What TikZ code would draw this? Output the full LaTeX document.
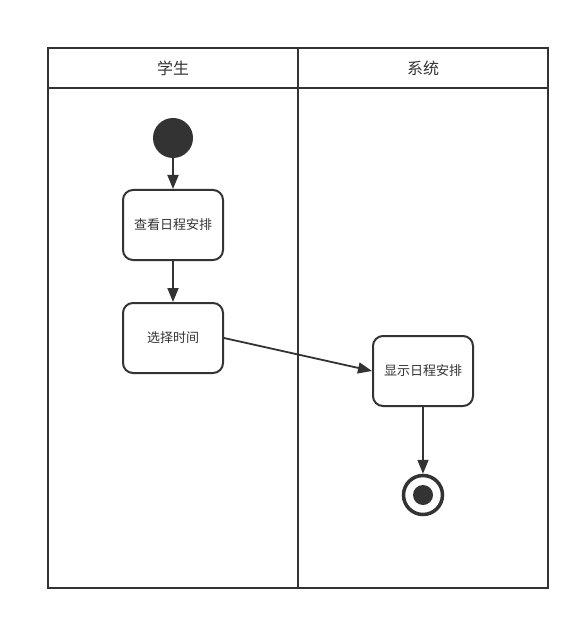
\documentclass[tikz,border=0pt]{standalone}
\usepackage{fontspec}
\newfontfamily\cjk{Noto Sans CJK SC}
\usetikzlibrary{arrows.meta}
\definecolor{ink}{HTML}{333333}
\tikzset{
  lane/.style={draw=ink, line width=2pt},
  act/.style={draw=ink, line width=2pt, rounded corners=10pt, minimum width=100pt, minimum height=70pt, font=\cjk\fontsize{13}{15}\selectfont, text=ink, inner sep=0pt},
  flow/.style={draw=ink, line width=1.8pt, -{Triangle[length=14pt,width=11pt]}},
  hdr/.style={font=\cjk\fontsize{16}{18}\selectfont, text=ink}
}
\begin{document}
\begin{tikzpicture}[x=1pt,y=-1pt]
\useasboundingbox (0,0) rectangle (580,620);
\fill[white] (0,0) rectangle (580,620);
\draw[lane] (48,48) rectangle (548,588);
\draw[lane] (48,88) -- (548,88);
\draw[lane] (298,48) -- (298,588);
\node[hdr] (h1) at (173,68) {学生};
\node[hdr] (h2) at (423,68) {系统};
\node[circle, fill=ink, minimum size=40pt, inner sep=0pt] (start) at (173,138) {};
\node[act] (a1) at (173,225) {\raisebox{-1pt}{查看日程安排}};
\node[act] (a2) at (173,338) {\raisebox{-1pt}{选择时间}};
\node[act] (a3) at (423,371) {\raisebox{-1pt}{显示日程安排}};
\node[circle, draw=ink, line width=3.5pt, minimum size=39pt, inner sep=0pt] (end) at (423,495) {};
\node[circle, fill=ink, minimum size=20pt, inner sep=0pt] (endin) at (423,495) {};
\draw[flow] (start) -- (a1);
\draw[flow] (a1) -- (a2);
\draw[flow] (a2.east) -- (a3.west);
\draw[flow] (a3) -- (end);
\end{tikzpicture}
\end{document}
